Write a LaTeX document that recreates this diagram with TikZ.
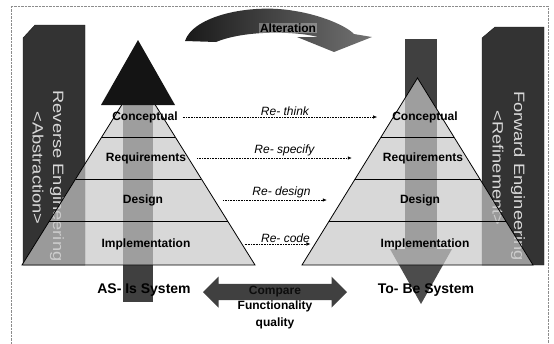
\documentclass[tikz,border=0pt]{standalone}
\usepackage{fontspec}
\setmainfont{Liberation Sans}
\usetikzlibrary{arrows.meta,positioning,calc,shapes.arrows}

\newcommand{\widetext}[1]{\scalebox{1.22}[1]{#1}}

\begin{document}
\begin{tikzpicture}[
  x=1pt, y=-1pt,
  node distance=2pt,
  level/.style={font=\fontsize{12}{14}\selectfont\bfseries, inner sep=1pt},
  sysname/.style={font=\fontsize{14}{16}\selectfont\bfseries, inner sep=1pt},
  side/.style={rotate=-90, font=\fontsize{15}{17}\selectfont,
               text=white!85!black, inner sep=0pt},
  bar/.style={fill=black!80, draw=black!90},
  pyr/.style={fill=black!22, fill opacity=0.7, draw=black, thick},
  shaft/.style={fill=black!75},
  rework/.style={-{Latex[length=4pt,width=3.5pt]}, densely dotted, semithick},
  relabel/.style={font=\fontsize{12}{14}\selectfont\itshape, inner sep=1.5pt},
]
\useasboundingbox (0,0) rectangle (554,343);

% Frame
\draw[densely dotted, black!45] (11,345) -- (11,6) -- (548,6) -- (548,345);

% Side bars
\draw[bar] (23,38) -- (35,25) -- (85,25) -- (85,265) -- (23,265) -- cycle;
\draw[bar] (482,38) -- (495,27) -- (544,27) -- (544,265) -- (482,265) -- cycle;
\node[side] (reveng) at (57,176) {\widetext{Reverse Engineering}};
\node[side] (abstr) at (38,168) {\widetext{<Abstraction>}};
\node[side] (fwdeng) at (518,176) {\widetext{Forward Engineering}};
\node[side] (refine) at (498,168) {\widetext{<Refinement>}};

% Alteration arrow
\shade[left color=black!90, right color=black!55]
  (185,41) .. controls (193,16) and (250,3) .. (295,11)
  .. controls (320,15) and (345,25) .. (354,34) -- (372,37) -- (334,52)
  -- (297,37) -- (318,37) .. controls (295,31) and (245,30) .. (216,42) -- cycle;
\node[font=\fontsize{12}{14}\selectfont\bfseries, fill=white, fill opacity=0.3,
      text opacity=1, inner sep=1pt] (alter) at (288,28) {Alteration};

% Vertical arrows
\fill[shaft] (123,105) rectangle (153,302);
\fill[shaft] (405,39) rectangle (437,249);
\fill[black!70] (390,249) -- (452,249) -- (421,304) -- cycle;

% Pyramids
\coordinate (ltop) at (138.5,78);
\coordinate (lbl) at (22,265);
\coordinate (lbr) at (255,265);
\coordinate (rtop) at (417.5,78);
\coordinate (rbl) at (302,265);
\coordinate (rbr) at (533,265);
\draw[pyr] (ltop) -- (lbl) -- (lbr) -- cycle;
\draw[pyr] (rtop) -- (rbl) -- (rbr) -- cycle;
\fill[black!92] (101,105) -- (175,105) -- (138,40) -- cycle;
\foreach \f in {0.3155,0.54,0.765} {
  \draw[thick] ($(ltop)!\f!(lbl)$) -- ($(ltop)!\f!(lbr)$);
  \draw[thick] ($(rtop)!\f!(rbl)$) -- ($(rtop)!\f!(rbr)$);
}

% Levels
\node[level] (lconc) at (145,117) {Conceptual};
\node[level] (lreq) at (146,158) {Requirements};
\node[level] (ldes) at (143,200) {Design};
\node[level] (limp) at (146,244) {Implementation};
\node[level] (rconc) at (425,117) {Conceptual};
\node[level] (rreq) at (423,158) {Requirements};
\node[level] (rdes) at (420,200) {Design};
\node[level] (rimp) at (425,244) {Implementation};

% Rework arrows
\draw[rework, shorten <=4pt, shorten >=14pt] (lconc) -- (rconc)
  node[relabel, midway, above] {Re- think};
\draw[rework, shorten <=10pt, shorten >=30pt] (lreq) -- (rreq)
  node[relabel, midway, above] {Re- specify};
\draw[rework, shorten <=59pt, shorten >=72pt] (ldes) -- (rdes)
  node[relabel, midway, above] {Re- design};
\draw[rework, shorten <=53pt, shorten >=69pt] (limp) -- (rimp)
  node[relabel, midway, above] {Re- code};

% Systems
\node[sysname] (asis) at (144,290) {AS- Is System};
\node[sysname] (tobe) at (426,290) {To- Be System};

% Compare
\node[double arrow, fill=black!75, minimum height=144pt, minimum width=31pt,
      double arrow head extend=7pt, inner sep=2pt,
      font=\fontsize{12}{14}\selectfont\bfseries, text=black!95] (cmp) at (275,292) {Compare};
\node[below=-3pt of cmp, align=center, font=\fontsize{12}{17}\selectfont\bfseries]
  (func) {Functionality\\quality};
\end{tikzpicture}
\end{document}
